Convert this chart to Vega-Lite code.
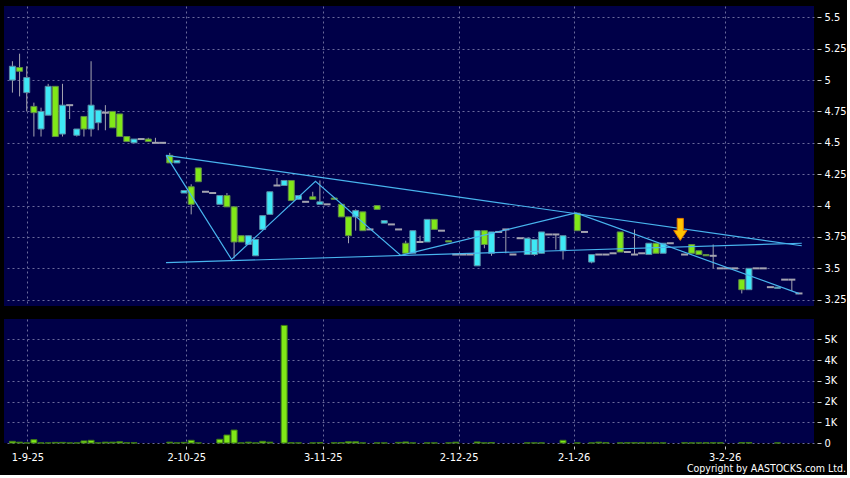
{
  "$schema": "https://vega.github.io/schema/vega-lite/v6.json",
  "background": "#000000",
  "padding": {"left": 4, "top": 6, "right": 0, "bottom": 0},
  "spacing": 13,
  "title": {"text": "Copyright by AASTOCKS.com Ltd.", "orient": "bottom", "anchor": "end", "color": "#ffffff", "fontSize": 10.5, "font": "DejaVu Sans Condensed, DejaVu Sans", "fontWeight": "normal", "offset": 2},
  "config": {
    "view": {"fill": "#000048", "stroke": null},
    "axis": {"gridColor": "#6a6a9c", "gridDash": [2, 3], "gridWidth": 1, "labelColor": "#ffffff", "labelFont": "DejaVu Sans Condensed, DejaVu Sans", "labelFontSize": 11, "tickColor": "#c8c8c8", "domain": false, "title": null, "labelOverlap": false, "tickCount": 30}
  },
  "datasets": {
    "ohlc": [
      {"i":0,"o":5.00,"h":5.15,"l":4.90,"c":5.11,"v":80},
      {"i":1,"o":5.10,"h":5.21,"l":4.87,"c":5.07,"v":40},
      {"i":2,"o":4.90,"h":5.11,"l":4.75,"c":5.02,"v":5},
      {"i":3,"o":4.79,"h":4.82,"l":4.55,"c":4.74,"v":160},
      {"i":4,"o":4.61,"h":4.78,"l":4.55,"c":4.75,"v":5},
      {"i":5,"o":4.72,"h":4.97,"l":4.72,"c":4.95,"v":5},
      {"i":6,"o":4.95,"h":4.95,"l":4.55,"c":4.55,"v":30},
      {"i":7,"o":4.57,"h":4.97,"l":4.55,"c":4.80,"v":30},
      {"i":8,"o":4.80,"h":4.80,"l":4.69,"c":4.80,"v":5},
      {"i":9,"o":4.56,"h":4.61,"l":4.55,"c":4.61,"v":5},
      {"i":10,"o":4.71,"h":4.71,"l":4.55,"c":4.61,"v":100},
      {"i":11,"o":4.61,"h":5.15,"l":4.55,"c":4.80,"v":130},
      {"i":12,"o":4.66,"h":4.76,"l":4.60,"c":4.76,"v":5},
      {"i":13,"o":4.74,"h":4.80,"l":4.60,"c":4.74,"v":40},
      {"i":14,"o":4.75,"h":4.75,"l":4.62,"c":4.62,"v":40},
      {"i":15,"o":4.73,"h":4.73,"l":4.55,"c":4.55,"v":60},
      {"i":16,"o":4.55,"h":4.55,"l":4.51,"c":4.51,"v":10},
      {"i":17,"o":4.50,"h":4.53,"l":4.50,"c":4.53,"v":10},
      {"i":18,"o":4.53,"h":4.53,"l":4.53,"c":4.53,"v":0},
      {"i":19,"o":4.53,"h":4.54,"l":4.51,"c":4.51,"v":0},
      {"i":20,"o":4.50,"h":4.54,"l":4.50,"c":4.50,"v":0},
      {"i":21,"o":4.50,"h":4.50,"l":4.50,"c":4.50,"v":0},
      {"i":22,"o":4.40,"h":4.42,"l":4.34,"c":4.34,"v":40},
      {"i":23,"o":4.34,"h":4.36,"l":4.34,"c":4.36,"v":5},
      {"i":24,"o":4.10,"h":4.12,"l":4.10,"c":4.12,"v":30},
      {"i":25,"o":4.15,"h":4.17,"l":3.93,"c":4.01,"v":130},
      {"i":26,"o":4.30,"h":4.30,"l":4.19,"c":4.19,"v":5},
      {"i":27,"o":4.11,"h":4.11,"l":4.11,"c":4.11,"v":0},
      {"i":28,"o":4.10,"h":4.10,"l":4.10,"c":4.10,"v":0},
      {"i":29,"o":4.01,"h":4.08,"l":4.01,"c":4.08,"v":180},
      {"i":30,"o":4.08,"h":4.10,"l":3.99,"c":3.99,"v":385},
      {"i":31,"o":3.99,"h":3.99,"l":3.58,"c":3.71,"v":625},
      {"i":32,"o":3.76,"h":3.76,"l":3.71,"c":3.71,"v":5},
      {"i":33,"o":3.69,"h":3.76,"l":3.69,"c":3.76,"v":40},
      {"i":34,"o":3.60,"h":3.73,"l":3.60,"c":3.73,"v":5},
      {"i":35,"o":3.81,"h":3.92,"l":3.81,"c":3.92,"v":80},
      {"i":36,"o":3.93,"h":4.11,"l":3.93,"c":4.11,"v":40},
      {"i":37,"o":4.16,"h":4.22,"l":4.16,"c":4.16,"v":0},
      {"i":38,"o":4.16,"h":4.20,"l":4.16,"c":4.20,"v":5670},
      {"i":39,"o":4.20,"h":4.20,"l":4.04,"c":4.04,"v":10},
      {"i":40,"o":4.05,"h":4.08,"l":4.05,"c":4.08,"v":5},
      {"i":41,"o":4.03,"h":4.03,"l":4.03,"c":4.03,"v":0},
      {"i":42,"o":4.07,"h":4.11,"l":4.05,"c":4.05,"v":5},
      {"i":43,"o":4.01,"h":4.20,"l":4.01,"c":4.03,"v":20},
      {"i":44,"o":4.01,"h":4.01,"l":4.01,"c":4.01,"v":0},
      {"i":45,"o":4.06,"h":4.06,"l":4.05,"c":4.05,"v":10},
      {"i":46,"o":4.01,"h":4.01,"l":3.91,"c":3.91,"v":20},
      {"i":47,"o":3.91,"h":3.91,"l":3.70,"c":3.76,"v":60},
      {"i":48,"o":3.91,"h":3.97,"l":3.80,"c":3.96,"v":60},
      {"i":49,"o":3.95,"h":3.95,"l":3.80,"c":3.80,"v":5},
      {"i":50,"o":3.81,"h":3.81,"l":3.81,"c":3.81,"v":0},
      {"i":51,"o":4.00,"h":4.00,"l":3.97,"c":3.97,"v":5},
      {"i":52,"o":3.86,"h":3.88,"l":3.86,"c":3.88,"v":5},
      {"i":53,"o":3.85,"h":3.85,"l":3.85,"c":3.85,"v":0},
      {"i":54,"o":3.81,"h":3.81,"l":3.81,"c":3.81,"v":30},
      {"i":55,"o":3.70,"h":3.72,"l":3.62,"c":3.62,"v":50},
      {"i":56,"o":3.62,"h":3.80,"l":3.62,"c":3.80,"v":5},
      {"i":57,"o":3.71,"h":3.76,"l":3.71,"c":3.71,"v":0},
      {"i":58,"o":3.71,"h":3.89,"l":3.71,"c":3.89,"v":5},
      {"i":59,"o":3.89,"h":3.89,"l":3.81,"c":3.81,"v":5},
      {"i":60,"o":3.80,"h":3.80,"l":3.80,"c":3.80,"v":0},
      {"i":61,"o":3.72,"h":3.72,"l":3.71,"c":3.71,"v":5},
      {"i":62,"o":3.61,"h":3.61,"l":3.61,"c":3.61,"v":40},
      {"i":63,"o":3.61,"h":3.61,"l":3.61,"c":3.61,"v":0},
      {"i":64,"o":3.61,"h":3.61,"l":3.61,"c":3.61,"v":0},
      {"i":65,"o":3.52,"h":3.80,"l":3.52,"c":3.80,"v":50},
      {"i":66,"o":3.80,"h":3.80,"l":3.66,"c":3.69,"v":5},
      {"i":67,"o":3.62,"h":3.79,"l":3.60,"c":3.79,"v":20},
      {"i":68,"o":3.79,"h":3.79,"l":3.79,"c":3.79,"v":0},
      {"i":69,"o":3.81,"h":3.81,"l":3.62,"c":3.81,"v":0},
      {"i":70,"o":3.61,"h":3.61,"l":3.61,"c":3.61,"v":0},
      {"i":71,"o":3.74,"h":3.74,"l":3.74,"c":3.74,"v":0},
      {"i":72,"o":3.61,"h":3.74,"l":3.61,"c":3.74,"v":5},
      {"i":73,"o":3.61,"h":3.73,"l":3.60,"c":3.73,"v":5},
      {"i":74,"o":3.62,"h":3.79,"l":3.62,"c":3.79,"v":5},
      {"i":75,"o":3.77,"h":3.77,"l":3.77,"c":3.77,"v":0},
      {"i":76,"o":3.77,"h":3.77,"l":3.65,"c":3.77,"v":0},
      {"i":77,"o":3.64,"h":3.76,"l":3.57,"c":3.76,"v":130},
      {"i":79,"o":3.94,"h":3.94,"l":3.80,"c":3.80,"v":5},
      {"i":80,"o":3.79,"h":3.79,"l":3.79,"c":3.79,"v":0},
      {"i":81,"o":3.55,"h":3.61,"l":3.54,"c":3.61,"v":5},
      {"i":82,"o":3.61,"h":3.61,"l":3.61,"c":3.61,"v":40},
      {"i":83,"o":3.61,"h":3.61,"l":3.61,"c":3.61,"v":15},
      {"i":84,"o":3.62,"h":3.62,"l":3.62,"c":3.62,"v":0},
      {"i":85,"o":3.79,"h":3.79,"l":3.63,"c":3.63,"v":5},
      {"i":86,"o":3.63,"h":3.63,"l":3.63,"c":3.63,"v":10},
      {"i":87,"o":3.61,"h":3.81,"l":3.61,"c":3.61,"v":10},
      {"i":88,"o":3.62,"h":3.62,"l":3.62,"c":3.62,"v":10},
      {"i":89,"o":3.61,"h":3.70,"l":3.61,"c":3.70,"v":5},
      {"i":90,"o":3.70,"h":3.70,"l":3.62,"c":3.62,"v":5},
      {"i":91,"o":3.62,"h":3.70,"l":3.62,"c":3.70,"v":5},
      {"i":92,"o":3.70,"h":3.70,"l":3.70,"c":3.70,"v":0},
      {"i":94,"o":3.61,"h":3.61,"l":3.61,"c":3.61,"v":10},
      {"i":95,"o":3.69,"h":3.69,"l":3.62,"c":3.62,"v":5},
      {"i":96,"o":3.64,"h":3.64,"l":3.61,"c":3.61,"v":5},
      {"i":97,"o":3.61,"h":3.61,"l":3.60,"c":3.60,"v":10},
      {"i":98,"o":3.60,"h":3.69,"l":3.50,"c":3.60,"v":10},
      {"i":99,"o":3.50,"h":3.50,"l":3.50,"c":3.50,"v":10},
      {"i":100,"o":3.50,"h":3.50,"l":3.50,"c":3.50,"v":0},
      {"i":101,"o":3.50,"h":3.50,"l":3.50,"c":3.50,"v":0},
      {"i":102,"o":3.41,"h":3.41,"l":3.30,"c":3.33,"v":15},
      {"i":103,"o":3.33,"h":3.50,"l":3.33,"c":3.50,"v":15},
      {"i":104,"o":3.50,"h":3.50,"l":3.50,"c":3.50,"v":0},
      {"i":105,"o":3.50,"h":3.50,"l":3.50,"c":3.50,"v":0},
      {"i":106,"o":3.35,"h":3.35,"l":3.35,"c":3.35,"v":0},
      {"i":107,"o":3.34,"h":3.35,"l":3.34,"c":3.35,"v":5},
      {"i":108,"o":3.41,"h":3.41,"l":3.41,"c":3.41,"v":0},
      {"i":109,"o":3.41,"h":3.41,"l":3.32,"c":3.41,"v":0},
      {"i":110,"o":3.30,"h":3.30,"l":3.30,"c":3.30,"v":0}
    ],
    "trend": [
      {"g":"upper","i":21.48,"p":4.40},
      {"g":"upper","i":110.39,"p":3.68},
      {"g":"lower","i":21.48,"p":3.545},
      {"g":"lower","i":110.39,"p":3.70},
      {"g":"zig","i":21.48,"p":4.40},
      {"g":"zig","i":30.64,"p":3.571},
      {"g":"zig","i":42.38,"p":4.193},
      {"g":"zig","i":54.31,"p":3.603},
      {"g":"zig","i":78.80,"p":3.941},
      {"g":"zig","i":110.02,"p":3.299}
    ],
    "marker": [{"i":93.4,"p":3.81}]
  },
  "vconcat": [
    {
      "width": 810,
      "height": 300,
      "encoding": {
        "x": {"field": "i", "type": "quantitative", "scale": {"domain": [-0.48, 111.4], "nice": false, "zero": false},
              "axis": {"values": [2.1, 24.3, 43.4, 62.4, 78.5, 99.6], "tickCount": 30, "labels": false, "ticks": false, "grid": true, "domain": false}}
      },
      "layer": [
        {
          "data": {"name": "ohlc"},
          "mark": {"type": "rule", "color": "#a4a4b0", "strokeWidth": 1},
          "encoding": {
            "y": {"field": "l", "type": "quantitative", "scale": {"domain": [3.2, 5.59], "nice": false, "zero": false},
                  "axis": {"orient": "right", "values": [3.25, 3.5, 3.75, 4, 4.25, 4.5, 4.75, 5, 5.25, 5.5], "tickCount": 30, "labelExpr": "'' + datum.value", "labelOverlap": false, "labelBound": false, "offset": 3, "tickSize": 4, "labelPadding": 3, "grid": true}},
            "y2": {"field": "h"}
          }
        },
        {
          "data": {"name": "ohlc"},
          "transform": [{"filter": "datum.o != datum.c"}],
          "mark": {"type": "bar", "size": 6, "strokeWidth": 1},
          "encoding": {
            "y": {"field": "o", "type": "quantitative"},
            "y2": {"field": "c"},
            "fill": {"condition": {"test": "datum.c > datum.o", "value": "#3ee8f5"}, "value": "#80e818"},
            "stroke": {"condition": {"test": "datum.c > datum.o", "value": "#5a8aa4"}, "value": "#5f8a48"}
          }
        },
        {
          "data": {"name": "ohlc"},
          "transform": [{"filter": "datum.o == datum.c"}],
          "mark": {"type": "tick", "orient": "horizontal", "size": 7, "thickness": 2, "color": "#a4a4b0", "opacity": 1},
          "encoding": {"y": {"field": "o", "type": "quantitative"}}
        },
        {
          "data": {"name": "trend"},
          "mark": {"type": "line", "color": "#48b4ee", "strokeWidth": 1.2},
          "encoding": {"y": {"field": "p", "type": "quantitative"}, "detail": {"field": "g"}}
        },
        {
          "data": {"name": "marker"},
          "mark": {"type": "point", "shape": "M-0.28,-1L0.28,-1L0.28,0.1L0.6,0.1L0,1L-0.6,0.1L-0.28,0.1Z", "size": 484, "filled": true, "fill": "#ffc400", "stroke": "#e07800", "strokeWidth": 1, "opacity": 1},
          "encoding": {"y": {"field": "p", "type": "quantitative"}}
        }
      ]
    },
    {
      "width": 810,
      "height": 124,
      "data": {"name": "ohlc"},
      "transform": [{"filter": "datum.v > 0"}],
      "mark": {"type": "bar", "size": 6, "fill": "#80e818", "stroke": "#3f7d14", "strokeWidth": 1},
      "encoding": {
        "x": {"field": "i", "type": "quantitative", "scale": {"domain": [-0.48, 111.4], "nice": false, "zero": false},
              "axis": {"values": [2.1, 24.3, 43.4, 62.4, 78.5, 99.6], "tickCount": 30, "labelExpr": "datum.value < 10 ? '1-9-25' : datum.value < 30 ? '2-10-25' : datum.value < 50 ? '3-11-25' : datum.value < 70 ? '2-12-25' : datum.value < 90 ? '2-1-26' : '3-2-26'", "offset": 3, "tickSize": 3, "labelPadding": 2, "grid": true}},
        "y": {"field": "v", "type": "quantitative", "scale": {"domain": [0, 5980], "nice": false},
              "axis": {"orient": "right", "values": [0, 1000, 2000, 3000, 4000, 5000], "tickCount": 30, "labelExpr": "datum.value == 0 ? '0' : (datum.value / 1000) + 'K'", "offset": 3, "tickSize": 4, "labelPadding": 3, "grid": true}}
      }
    }
  ]
}
